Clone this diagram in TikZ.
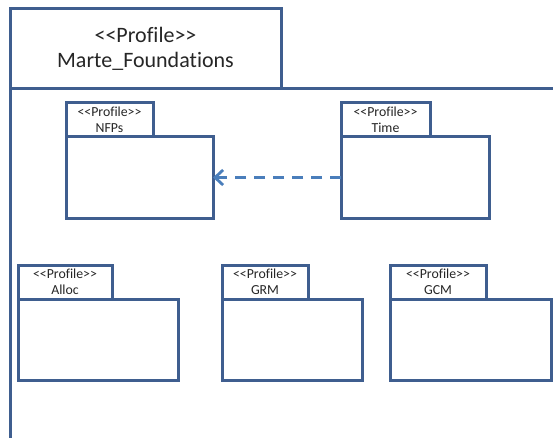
\documentclass[tikz,border=0pt]{standalone}
\usepackage{fontspec}
\setmainfont[Ligatures={TeXOff,NoCommon}, RawFeature={-liga;-clig;-calt;-dlig}]{Carlito}
\usetikzlibrary{arrows.meta,positioning}
\definecolor{edge}{HTML}{3F5E8F}
\definecolor{dep}{HTML}{4A7EBB}
\definecolor{txt}{HTML}{262626}
\tikzset{
  box/.style={draw=edge, line width=3pt, fill=white, rectangle, inner sep=0pt, outer sep=0pt, anchor=north west},
  tabtext/.style={font=\fontsize{13.8}{15.5}\selectfont, text=txt, align=center},
  bigtext/.style={font=\fontsize{22}{25}\selectfont, text=txt, align=center},
  usage/.style={draw=dep, line width=2.8pt, dash pattern=on 11pt off 8pt, -{Straight Barb[length=8pt,width=15pt,line width=2.8pt]}}
}
% package symbol: tab with stereotype and name, body below it
% #1 name, #2 x, #3 y (top, measured downwards), #4 tab width, #5 body width, #6 label
\newcommand{\pkgsym}[6]{%
  \node[box, minimum width=#5pt, minimum height=81pt] (#1) at (#2, 437-#3-34) {};
  \node[box, anchor=south west, minimum width=#4pt, minimum height=34pt] (#1tab) at (#1.north west) {};
  \node[tabtext] at (#1tab.center) {<<Profile>>\\#6};
}
\begin{document}
\begin{tikzpicture}[x=1pt,y=1pt]
  \useasboundingbox (0,0) rectangle (553,437);
  \fill[white] (0,0) rectangle (553,437);
  % enclosing profile frame
  \node[box, anchor=north west, minimum width=271pt, minimum height=80pt] (frame) at (10,437-9) {};
  \node[bigtext] (frametitle) at (frame.center) {<<Profile>>\\Marte\_Foundat\kern0pt ions};
  \coordinate (frameright) at (560,437-89);
  \coordinate (framebottom) at (10,-10);
  \draw[edge, line width=3pt] (frameright) -- (frame.south west) -- (framebottom);
  % nested profiles
  \pkgsym{nfps}{66}{103}{87}{147}{NFPs}
  \pkgsym{time}{341}{103}{89}{148}{Time}
  \pkgsym{alloc}{18}{265}{94}{160}{Alloc}
  \pkgsym{grm}{222}{265}{86}{140}{GRM}
  \pkgsym{gcm}{390}{265}{96}{161}{GCM}
  % dependency
  \draw[usage] (time.west) -- (nfps.east);
\end{tikzpicture}
\end{document}
